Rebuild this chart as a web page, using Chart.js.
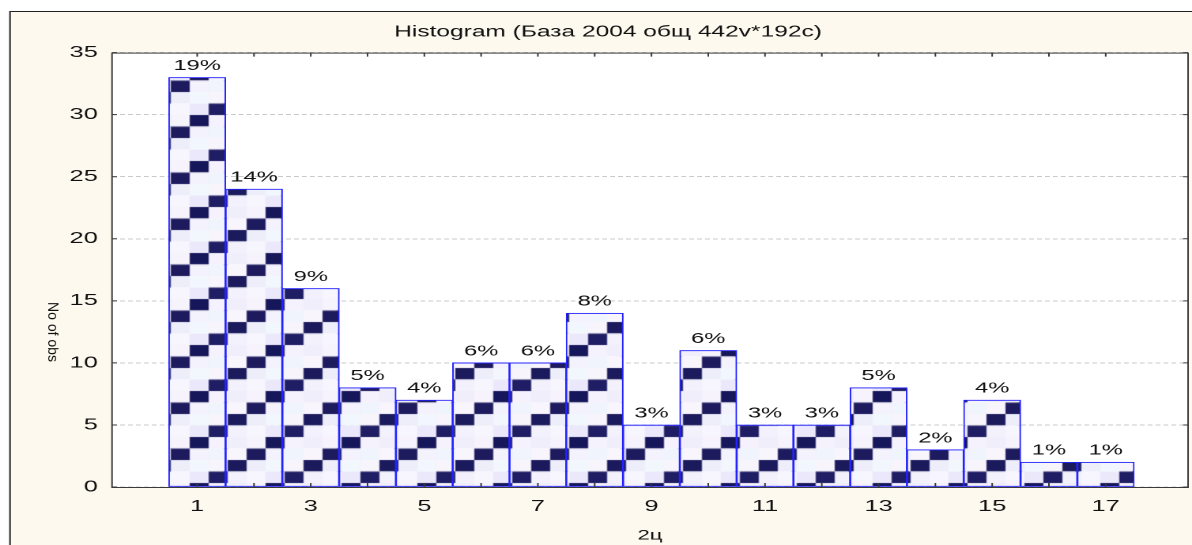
<!DOCTYPE html>
<html>
<head>
<meta charset="utf-8">
<script src="https://cdn.jsdelivr.net/npm/chart.js@4"></script>
<style>
  body { margin: 0; background: #fff; overflow: hidden; }
  #wrap { width: 754px; height: 545px; transform: scaleX(1.5809); transform-origin: 0 0; }
</style>
</head>
<body>
<div id="wrap"><canvas id="hist" width="754" height="545"></canvas></div>
<script>
// data
const bins = [1, 2, 3, 4, 5, 6, 7, 8, 9, 10, 11, 12, 13, 14, 15, 16, 17];
const counts = [33, 24, 16, 8, 7, 10, 10, 14, 5, 11, 5, 5, 8, 3, 7, 2, 2];
const pctLabels = ['19%', '14%', '9%', '5%', '4%', '6%', '6%', '8%', '3%', '6%', '3%', '3%', '5%', '2%', '4%', '1%', '1%'];
const xLabelValues = [1, 3, 5, 7, 9, 11, 13, 15, 17];

const titleText = 'Histogram (База 2004 общ 442v*192c)';
const xTitle = '2ц';
const yTitle = 'No of obs';

const S = 1192 / 754; // horizontal stretch of the whole picture
const FONT = 'Arial, "Liberation Sans", sans-serif';

// checkered fill like the statistica pattern
function makePattern() {
  const cw = 12, ch = 11.5;
  const c = document.createElement('canvas');
  c.width = cw * 4;
  c.height = ch * 4;
  const g = c.getContext('2d');
  const lights = ['#f6f3fd', '#eeeefb', '#f2f7fd', '#f8f4fc',
                  '#f3f1fc', '#f7f5fd', '#ebe8fb', '#f4f8fe',
                  '#f1eefc', '#f7f3fc', '#eef3fd', '#f5f2fd',
                  '#f9f5fd', '#efedfb', '#f4f2fd', '#f0f4fd'];
  const darks = ['#1b1a5c', '#1f1d63', '#16165a', '#1d1b5e'];
  for (let r = 0; r < 4; r++) {
    for (let col = 0; col < 4; col++) {
      const dark = col === (4 - r) % 4;
      g.fillStyle = dark ? darks[r] : lights[r * 4 + col];
      g.fillRect(col * cw, r * ch, cw, ch);
    }
  }
  return g.createPattern(c, 'repeat');
}

const framePlugin = {
  id: 'frame',
  beforeDraw(chart) {
    const ctx = chart.ctx;
    const a = chart.chartArea;
    ctx.save();
    ctx.fillStyle = '#fef9ee';
    ctx.fillRect(10 / S, 11, chart.width, chart.height);
    ctx.strokeStyle = '#222';
    ctx.lineWidth = 1;
    ctx.beginPath();
    ctx.moveTo(10 / S, chart.height);
    ctx.lineTo(10 / S, 11.5);
    ctx.lineTo(chart.width, 11.5);
    ctx.stroke();
    ctx.fillStyle = '#ffffff';
    ctx.fillRect(a.left, a.top, a.right - a.left, a.bottom - a.top);
    ctx.restore();
  },
  afterDatasetsDraw(chart) {
    const ctx = chart.ctx;
    const a = chart.chartArea;
    const xs = chart.scales.x;
    const ys = chart.scales.y;
    ctx.save();
    // plot frame
    ctx.strokeStyle = '#3a3a3a';
    ctx.lineWidth = 1;
    ctx.strokeRect(a.left, a.top + 0.5, a.right - a.left, a.bottom - a.top);
    // inward tick marks
    ctx.beginPath();
    xs.ticks.forEach(t => {
      if (!Number.isInteger(t.value)) return;
      const px = xs.getPixelForValue(t.value);
      ctx.moveTo(px, a.top);
      ctx.lineTo(px, a.top + 4);
      ctx.moveTo(px, a.bottom);
      ctx.lineTo(px, a.bottom - 4);
    });
    ys.ticks.forEach(t => {
      const py = ys.getPixelForValue(t.value);
      ctx.moveTo(a.left, py);
      ctx.lineTo(a.left + 5 / S, py);
      ctx.moveTo(a.right, py);
      ctx.lineTo(a.right - 5 / S, py);
    });
    ctx.stroke();
    // percent labels over the bars
    ctx.fillStyle = '#111';
    ctx.font = '15px ' + FONT;
    ctx.textAlign = 'center';
    ctx.textBaseline = 'alphabetic';
    chart.getDatasetMeta(0).data.forEach((bar, i) => {
      ctx.fillText(pctLabels[i], bar.x, bar.y - 7.5);
    });
    // y axis title, reads top to bottom and not stretched
    ctx.translate(52 / S, 332);
    ctx.scale(1 / S, 1);
    ctx.rotate(Math.PI / 2);
    ctx.font = '14px ' + FONT;
    ctx.textBaseline = 'middle';
    ctx.fillText(yTitle, 0, 0);
    ctx.restore();
  }
};

const ctx = document.getElementById('hist');
const pattern = makePattern();

new Chart(ctx, {
  type: 'bar',
  data: {
    datasets: [{
      data: bins.map((b, i) => ({ x: b, y: counts[i] })),
      backgroundColor: pattern,
      borderColor: '#2424ff',
      borderWidth: 1,
      borderSkipped: false,
      barPercentage: 1,
      categoryPercentage: 1
    }]
  },
  plugins: [framePlugin],
  options: {
    responsive: false,
    devicePixelRatio: 2,
    animation: false,
    layout: {
      padding: { left: 17.7, right: 2.5, top: 11, bottom: 0 }
    },
    scales: {
      x: {
        type: 'linear',
        offset: false,
        min: -0.5,
        max: 18.45,
        afterFit: s => { s.height = 58; s.paddingLeft = 0; s.paddingRight = 0; },
        grid: { display: false, drawTicks: false },
        border: { display: false },
        ticks: {
          stepSize: 1,
          autoSkip: false,
          maxRotation: 0,
          padding: 10,
          color: '#111',
          font: { family: FONT, size: 16 },
          callback: v => xLabelValues.includes(v) ? String(v) : ''
        },
        title: {
          display: true,
          text: xTitle,
          color: '#111',
          font: { family: FONT, size: 14 },
          padding: { top: 0, bottom: 1 }
        }
      },
      y: {
        min: 0,
        max: 35,
        afterFit: s => { s.width = 53.15; },
        grid: { color: '#c9c9c9', drawTicks: false, lineWidth: 1 },
        border: { display: false, dash: [3, 2] },
        ticks: {
          stepSize: 5,
          padding: 9,
          color: '#111',
          font: { family: FONT, size: 16 }
        }
      }
    },
    plugins: {
      legend: { display: false },
      tooltip: { enabled: false },
      title: {
        display: true,
        text: titleText,
        color: '#111',
        font: { family: FONT, size: 15.5, weight: 'normal' },
        padding: { top: 12, bottom: 11 }
      }
    }
  }
});
</script>
</body>
</html>
